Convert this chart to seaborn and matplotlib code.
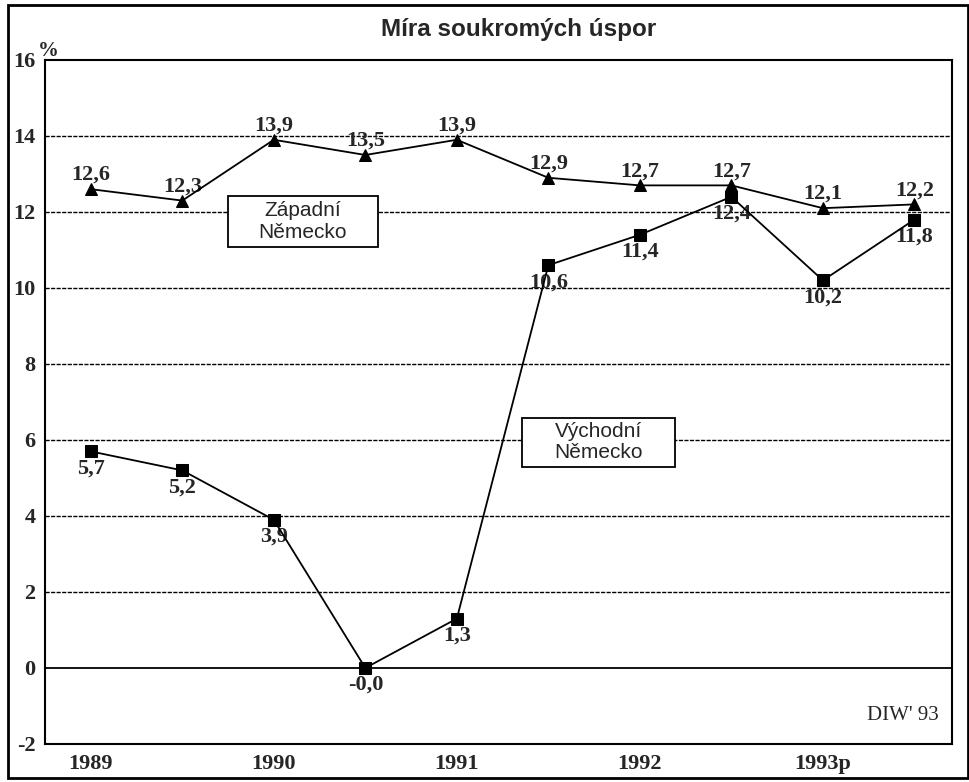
import matplotlib
matplotlib.use("Agg")
import matplotlib.pyplot as plt
from matplotlib.patches import Rectangle
import numpy as np
import pandas as pd
import seaborn as sns

sns.set_style("white")
plt.rcParams["font.family"] = ["Liberation Serif", "DejaVu Serif"]

# half-year periods
periods = [1989.0, 1989.5, 1990.0, 1990.5, 1991.0, 1991.5, 1992.0, 1992.5, 1993.0, 1993.5]
west = [12.6, 12.3, 13.9, 13.5, 13.9, 12.9, 12.7, 12.7, 12.1, 12.2]
east = [5.7, 5.2, 3.9, -0.0, 1.3, 10.6, 11.4, 12.4, 10.2, 11.8]
year_ticks = [1989, 1990, 1991, 1992, 1993]
year_labels = ["1989", "1990", "1991", "1992", "1993p"]
y_ticks = [-2, 0, 2, 4, 6, 8, 10, 12, 14, 16]

df = pd.DataFrame({"period": periods, "west": west, "east": east})

fig = plt.figure(figsize=(9.7, 7.82), dpi=100)
ax = fig.add_axes([0.0464, 0.0486, 0.935, 0.8747])

# outer frame around the whole figure
fig.patches.append(Rectangle((0.008, 0.005), 0.99, 0.988, transform=fig.transFigure,
                             fill=False, edgecolor="black", linewidth=2))

fig.text(0.535, 0.962, "Míra soukromých úspor", ha="center", va="center",
         fontsize=17.5, fontweight="bold", family=["Liberation Sans", "DejaVu Sans"])

for y in y_ticks[2:-1]:
    ax.axhline(y, color="black", linewidth=1.0, linestyle=(0, (3, 1)), zorder=1)
ax.axhline(0, color="black", linewidth=1.3, zorder=1)

sns.lineplot(data=df, x="period", y="west", ax=ax, color="black", linewidth=1.3,
             marker="^", markersize=8, markeredgecolor="black", zorder=4)
sns.lineplot(data=df, x="period", y="east", ax=ax, color="black", linewidth=1.3,
             marker="s", markersize=8, markeredgecolor="black", zorder=4)

lab_font = dict(fontsize=16, fontweight="bold", ha="center")
for x, v in zip(periods, west):
    ax.annotate(f"{v:.1f}".replace(".", ","), (x, v), xytext=(0, 3),
                textcoords="offset points", va="bottom", **lab_font)
for x, v in zip(periods, east):
    ax.annotate(f"{v:.1f}".replace(".", ","), (x, v), xytext=(0, -5),
                textcoords="offset points", va="top", **lab_font)

# series label boxes
boxes = [("Západní\nNěmecko", 1989.749, 11.08, 0.82, 1.34),
         ("Východní\nNěmecko", 1991.355, 5.30, 0.836, 1.29)]
for text, bx, by, bw, bh in boxes:
    ax.add_patch(Rectangle((bx, by), bw, bh, facecolor="white", edgecolor="black",
                           linewidth=1.3, zorder=3))
    ax.text(bx + bw / 2, by + bh / 2, text, ha="center", va="center", fontsize=15,
            family=["Liberation Sans", "DejaVu Sans"], linespacing=1.15, zorder=5)

ax.text(0.985, 0.042, "DIW' 93", transform=ax.transAxes, ha="right", va="center",
        fontsize=15)
ax.text(-0.008, 0.998, "%", transform=ax.transAxes, ha="left", va="bottom",
        fontsize=15, fontweight="bold")

ax.set_xlim(1988.75, 1993.705)
ax.set_ylim(-2, 16)
ax.set_yticks(y_ticks)
ax.set_yticklabels([str(t) for t in y_ticks], fontsize=16, fontweight="bold")
ax.set_xticks(year_ticks)
ax.set_xticklabels(year_labels, fontsize=16, fontweight="bold")
ax.set_xticks(periods[1::2], minor=True)
ax.tick_params(axis="both", which="both", direction="out", length=5, width=1.2, pad=2)
ax.set_xlabel("")
ax.set_ylabel("")
for s in ax.spines.values():
    s.set_color("black")
    s.set_linewidth(1.5)
ax.spines["top"].set_linestyle((0, (4, 1)))

fig.savefig("out.png", dpi=100)
